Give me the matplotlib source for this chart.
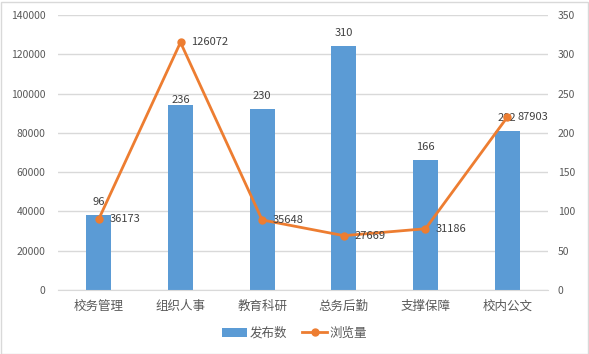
import matplotlib
matplotlib.use("Agg")
import matplotlib.pyplot as plt
from matplotlib.patches import Rectangle
from matplotlib.lines import Line2D
from matplotlib.patches import Patch

plt.rcParams['font.family'] = ['Noto Sans CJK SC', 'DejaVu Sans']

categories = ['校务管理', '组织人事', '教育科研', '总务后勤', '支撑保障', '校内公文']
posts = [96, 236, 230, 310, 166, 202]            # 发布数 (right axis, bars)
views = [36173, 126072, 35648, 27669, 31186, 87903]  # 浏览量 (left axis, line)
left_ticks = [0, 20000, 40000, 60000, 80000, 100000, 120000, 140000]
right_ticks = [0, 50, 100, 150, 200, 250, 300, 350]

BAR = '#5B9BD5'
LINE = '#ED7D31'
TXT = '#595959'
GRID = '#D9D9D9'

W, H = 589, 354
fig = plt.figure(figsize=(W / 100, H / 100), dpi=100)
fig.patch.set_facecolor('white')
fig.add_artist(Rectangle((0.5 / W, 0.5 / H), (W - 2) / W, (H - 2) / H,
                         transform=fig.transFigure, fill=False,
                         edgecolor=GRID, linewidth=1.0))

ax = fig.add_axes([58 / W, 1 - 290 / H, (548 - 58) / W, (290 - 15) / H])
ax2 = ax.twinx()

x = list(range(len(categories)))

# bars on the secondary (right) axis, drawn underneath
ax2.set_zorder(0)
ax.set_zorder(1)
ax.patch.set_visible(False)
ax2.bar(x, posts, width=0.31, color=BAR, zorder=2)
ax2.set_ylim(0, 350)
ax2.set_yticks(right_ticks)
ax2.yaxis.grid(True, color=GRID, linewidth=1.0, zorder=0)
ax2.set_axisbelow(True)
bar_offsets = [13, 5, 13, 13, 13, 13]
for xi, v, off in zip(x, posts, bar_offsets):
    ax2.annotate(str(v), (xi, v), xytext=(0, off * 0.72), textcoords='offset points',
                 ha='center', va='center', fontsize=8, color='#404040')

# line on the primary (left) axis, on top
ax.plot(x, views, color=LINE, linewidth=2.0, marker='o', markersize=5, zorder=3)
ax.set_ylim(0, 140000)
ax.set_yticks(left_ticks)
for xi, v in zip(x, views):
    ax.annotate(str(v), (xi, v), xytext=(7.5, 0), textcoords='offset points',
                ha='left', va='center', fontsize=8, color='#404040')

ax.set_xlim(-0.5, len(categories) - 0.5)
ax.set_xticks(x)
ax.set_xticklabels(categories, fontsize=9, color=TXT)

for a in (ax, ax2):
    for s in ('top', 'left', 'right', 'bottom'):
        a.spines[s].set_visible(False)
    a.tick_params(length=0, labelsize=7.5, labelcolor=TXT)
ax.tick_params(axis='y', pad=9)
ax2.tick_params(axis='y', pad=7)
ax.tick_params(axis='x', pad=7, labelsize=9)
ax2.spines['bottom'].set_visible(True)
ax2.spines['bottom'].set_color(GRID)

handles = [Patch(facecolor=BAR, edgecolor='none'),
           Line2D([0], [0], color=LINE, linewidth=2.0, marker='o', markersize=5)]
fig.legend(handles, ['发布数', '浏览量'], loc='center', bbox_to_anchor=(0.5, 1 - 333 / H),
           ncol=2, frameon=False, fontsize=9, labelcolor=TXT,
           handlelength=2.0, handletextpad=0.2, columnspacing=1.2)

fig.savefig('out.png', dpi=100)
